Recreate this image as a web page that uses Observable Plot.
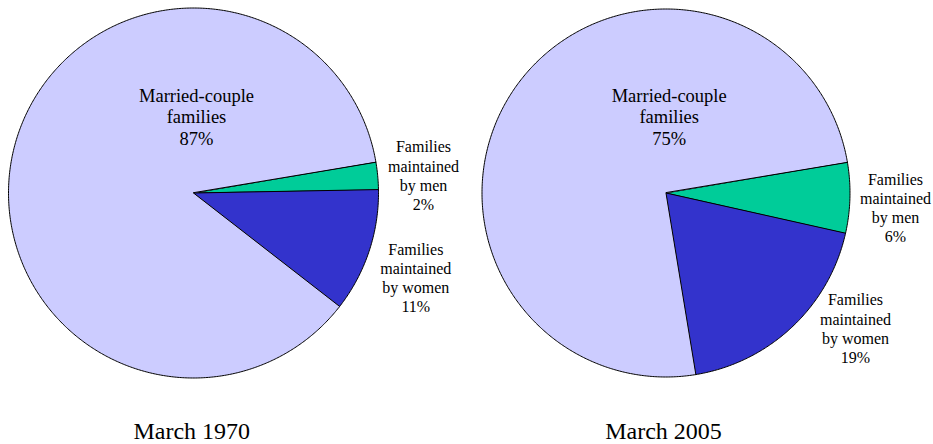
<!DOCTYPE html>
<html><head><meta charset="utf-8">
<script src="https://cdn.jsdelivr.net/npm/d3@7"></script>
<script src="https://cdn.jsdelivr.net/npm/@observablehq/plot@0.6"></script>
<style>body{margin:0;background:#fff}</style>
</head><body><div id="chart"></div>
<script>
// ---- data ----
const categories = ["Families\nmaintained\nby men", "Families\nmaintained\nby women", "Married-couple\nfamilies"];
const years = ["March 1970", "March 2005"];
const values1970 = [2.4, 10.8, 86.8];
const values2005 = [6.2, 18.9, 74.9];
const pctLabels1970 = ["2%", "11%", "87%"];
const pctLabels2005 = ["6%", "19%", "75%"];
const colors = ["#00CC99", "#3333CC", "#CCCCFF"];

// ---- layout (pixels) ----
const pies = [
  {cx: 193, cy: 192.5, r: 185, labels: [[423, 174.5], [415.3, 277], [196, 115.8]], title: [191.3, 430.5]},
  {cx: 665.5, cy: 192.5, r: 184, labels: [[895, 207], [855, 327.5], [668.7, 115.8]], title: [663, 430.5]}
];
const startDeg = 9.7; // first slice edge, degrees above east; slices run clockwise

const series = [values1970, values2005];
const pctLabels = [pctLabels1970, pctLabels2005];

// slice outlines
const pts = [];
series.forEach((vals, p) => {
  const {cx, cy, r} = pies[p];
  const total = d3.sum(vals);
  let a = startDeg;
  vals.forEach((v, i) => {
    const sweep = v / total * 360;
    const key = years[p] + "|" + i;
    pts.push({key, cat: categories[i], x: cx, y: cy});
    const n = Math.max(2, Math.ceil(sweep * 2));
    for (let k = 0; k <= n; k++) {
      const t = (a - sweep * k / n) * Math.PI / 180;
      pts.push({key, cat: categories[i], x: cx + r * Math.cos(t), y: cy - r * Math.sin(t)});
    }
    a -= sweep;
  });
});

const labelRows = [];
series.forEach((vals, p) => {
  vals.forEach((v, i) => {
    labelRows.push({x: pies[p].labels[i][0], y: pies[p].labels[i][1],
      text: categories[i] + "\n" + pctLabels[p][i], big: i === 2});
  });
});
const titleRows = years.map((t, p) => ({x: pies[p].title[0], y: pies[p].title[1], text: t}));

const font = "'Liberation Serif', 'Times New Roman', serif";
const chart = Plot.plot({
  width: 933, height: 444, margin: 0,
  style: {fontFamily: font, background: "#fff", overflow: "visible"},
  x: {domain: [0, 933], range: [0, 933], axis: null},
  y: {domain: [0, 444], range: [0, 444], axis: null},
  color: {domain: categories, range: colors},
  marks: [
    Plot.line(pts, {x: "x", y: "y", z: "key", fill: "cat", stroke: "#000", strokeWidth: 1, curve: "linear-closed", strokeLinejoin: "round"}),
    Plot.text(labelRows.filter(d => !d.big), {x: "x", y: "y", text: "text", fontSize: 16, lineHeight: 1.2, fill: "#000", fontFamily: font}),
    Plot.text(labelRows.filter(d => d.big), {x: "x", y: "y", text: "text", fontSize: 18.5, lineHeight: 1.17, fill: "#000", fontFamily: font}),
    Plot.text(titleRows, {x: "x", y: "y", text: "text", fontSize: 24, fill: "#000", fontFamily: font})
  ]
});
document.getElementById("chart").appendChild(chart);
</script></body></html>
